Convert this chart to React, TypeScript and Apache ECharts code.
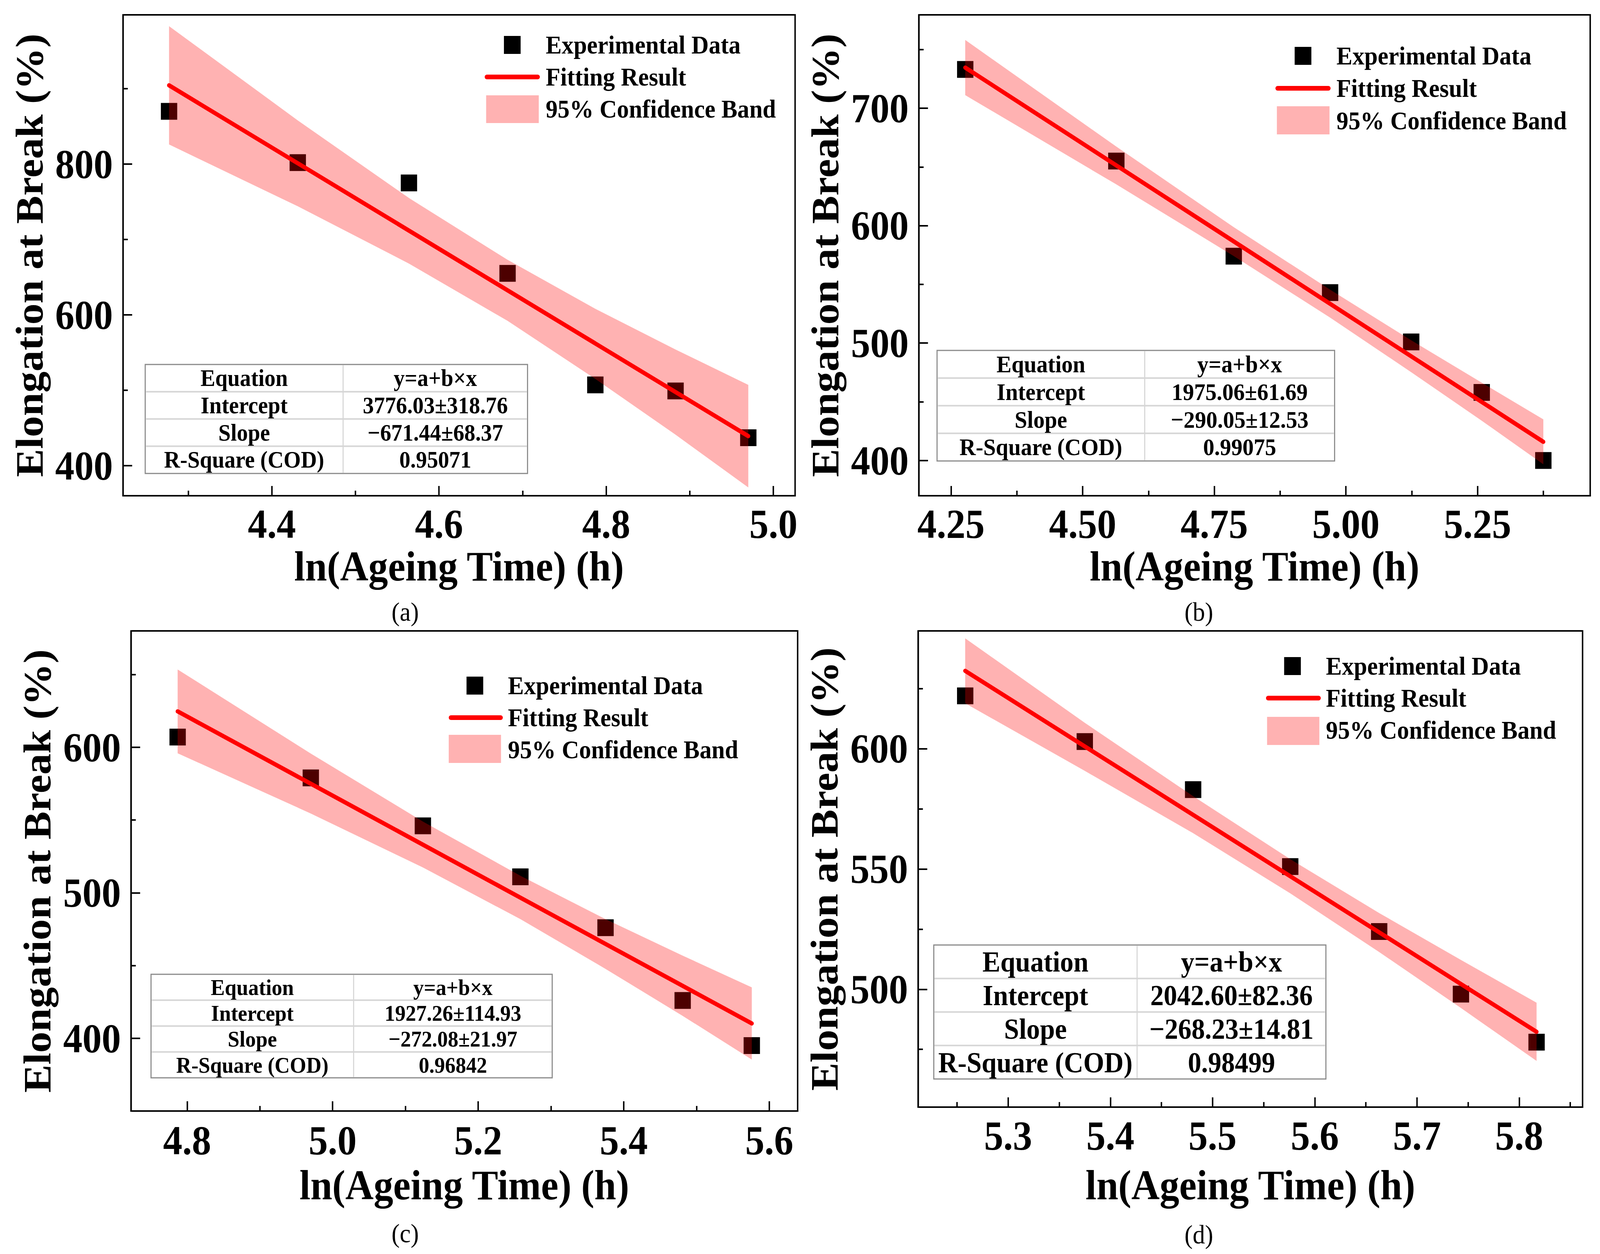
import React, { useEffect, useRef, useState } from "react";
import * as echarts from "echarts";

const FONT = '"Liberation Serif", "Times New Roman", Times, serif';
const DESIGN_W = 4407;
const DESIGN_H = 3210;

// ---------- Panel (a) ----------
const xA = [4.277, 4.431, 4.564, 4.682, 4.787, 4.883, 4.970];
const yA = [870, 802, 775, 655, 507, 499, 437];
const fitXA = [4.277, 4.970];
const fitYA = [904.5, 439.1];
const bandUpA = [983, 858, 755, 673, 608, 554, 507];
const bandLoA = [826, 744, 668, 592, 515, 441, 371];
const xTicksA = [4.4, 4.6, 4.8, 5.0];
const xMinorA = [4.3, 4.5, 4.7, 4.9];
const yTicksA = [400, 600, 800];
const yMinorA = [500, 700, 900];
const tableA = ["y=a+b\u00d7x", "3776.03\u00b1318.76", "\u2212671.44\u00b168.37", "0.95071"];

// ---------- Panel (b) ----------
const xB = [4.277, 4.564, 4.787, 4.970, 5.124, 5.258, 5.375];
const yB = [733, 655, 574, 543, 501, 458, 400];
const fitXB = [4.277, 5.375];
const fitYB = [734.6, 415.9];
const bandUpB = [758.1, 667.3, 598.7, 545.5, 502.4, 466.3, 435.0];
const bandLoB = [711.1, 635.1, 574.1, 521.7, 475.2, 433.9, 396.8];
const xTicksB = [4.25, 4.5, 4.75, 5.0, 5.25];
const xMinorB = [4.375, 4.625, 4.875, 5.125, 5.375];
const yTicksB = [400, 500, 600, 700];
const yMinorB = [450, 550, 650, 750];
const tableB = ["y=a+b\u00d7x", "1975.06\u00b161.69", "\u2212290.05\u00b112.53", "0.99075"];

// ---------- Panel (c) ----------
const xC = [4.787, 4.970, 5.124, 5.258, 5.375, 5.481, 5.576];
const yC = [607, 579, 546, 511, 476, 426, 395];
const fitXC = [4.787, 5.576];
const fitYC = [624.7, 410.2];
const bandUpC = [653.5, 595.7, 549.0, 511.7, 481.9, 456.8, 435.0];
const bandLoC = [595.9, 554.5, 517.4, 481.9, 447.7, 415.4, 385.4];
const xTicksC = [4.8, 5.0, 5.2, 5.4, 5.6];
const xMinorC = [4.9, 5.1, 5.3, 5.5];
const yTicksC = [400, 500, 600];
const yMinorC = [450, 550, 650];
const tableC = ["y=a+b\u00d7x", "1927.26\u00b1114.93", "\u2212272.08\u00b121.97", "0.96842"];

// ---------- Panel (d) ----------
const xD = [5.258, 5.375, 5.481, 5.576, 5.663, 5.743, 5.817];
const yD = [622, 603, 583, 551, 524, 498, 478];
const fitXD = [5.258, 5.817];
const fitYD = [632.4, 482.3];
const bandUpD = [645.9, 610.8, 580.3, 554.1, 531.7, 512.2, 494.4];
const bandLoD = [618.9, 590.8, 564.9, 539.9, 515.5, 492.2, 470.2];
const xTicksD = [5.3, 5.4, 5.5, 5.6, 5.7, 5.8];
const xMinorD = [5.25, 5.35, 5.45, 5.55, 5.65, 5.75, 5.85];
const yTicksD = [500, 550, 600];
const yMinorD = [475, 525, 575, 625];
const tableD = ["y=a+b\u00d7x", "2042.60\u00b182.36", "\u2212268.23\u00b114.81", "0.98499"];

const tableLabels = ["Equation", "Intercept", "Slope", "R-Square (COD)"];
const legendNames = ["Experimental Data", "Fitting Result", "95% Confidence Band"];
const xTitle = "ln(Ageing Time) (h)";
const yTitle = "Elongation at Break (%)";
const tags = ["(a)", "(b)", "(c)", "(d)"];

type PanelData = {
  xs: number[]; ys: number[]; fitX: number[]; fitY: number[];
  bandUp: number[]; bandLo: number[];
  xTicks: number[]; xMinor: number[]; yTicks: number[]; yMinor: number[];
  table: string[];
};

const data: PanelData[] = [
  { xs: xA, ys: yA, fitX: fitXA, fitY: fitYA, bandUp: bandUpA, bandLo: bandLoA, xTicks: xTicksA, xMinor: xMinorA, yTicks: yTicksA, yMinor: yMinorA, table: tableA },
  { xs: xB, ys: yB, fitX: fitXB, fitY: fitYB, bandUp: bandUpB, bandLo: bandLoB, xTicks: xTicksB, xMinor: xMinorB, yTicks: yTicksB, yMinor: yMinorB, table: tableB },
  { xs: xC, ys: yC, fitX: fitXC, fitY: fitYC, bandUp: bandUpC, bandLo: bandLoC, xTicks: xTicksC, xMinor: xMinorC, yTicks: yTicksC, yMinor: yMinorC, table: tableC },
  { xs: xD, ys: yD, fitX: fitXD, fitY: fitYD, bandUp: bandUpD, bandLo: bandLoD, xTicks: xTicksD, xMinor: xMinorD, yTicks: yTicksD, yMinor: yMinorD, table: tableD },
];

// ---------- layout (positions / styles, in reference pixels) ----------
const layout = [
  {
    grid: { left: 339, top: 38, width: 1851, height: 1231 },
    xr: [4.222, 5.026], yr: [360, 998], dec: 1, xGap: 127, xMargin: 19,
    leg: { mx: 1411, rows: [115, 197, 279], lx1: 1335, lx2: 1487, bx: 1339, bw: 145, by: 244, bh: 71, tx: 1503 },
    tbl: { x0: 400, x1: 1453, y0: 933, y1: 1212, xc: 945, fs: 61 },
    tag: { x: 1116, y: 1566 },
  },
  {
    grid: { left: 2531, top: 38, width: 1849, height: 1231 },
    xr: [4.189, 5.464], yr: [370, 779.5], dec: 2, xGap: 127, xMargin: 19,
    leg: { mx: 3589, rows: [143, 226, 309], lx1: 3513, lx2: 3665, bx: 3517, bw: 145, by: 272, bh: 72, tx: 3681 },
    tbl: { x0: 2581, x1: 3676, y0: 897, y1: 1180, xc: 3153, fs: 62 },
    tag: { x: 3302, y: 1566 },
  },
  {
    grid: { left: 361, top: 1615, width: 1836, height: 1229 },
    xr: [4.723, 5.639], yr: [350, 680], dec: 1, xGap: 136, xMargin: 22,
    leg: { mx: 1308, rows: [1755, 1837, 1919], lx1: 1236, lx2: 1385, bx: 1236, bw: 144, by: 1881, bh: 72, tx: 1399 },
    tbl: { x0: 416, x1: 1521, y0: 2494, y1: 2759, xc: 974, fs: 58 },
    tag: { x: 1116, y: 3157 },
  },
  {
    grid: { left: 2529, top: 1615, width: 1830, height: 1219 },
    xr: [5.212, 5.862], yr: [451, 649], dec: 1, xGap: 146, xMargin: 20,
    leg: { mx: 3560, rows: [1705, 1787, 1869], lx1: 3487, lx2: 3638, bx: 3490, bw: 144, by: 1835, bh: 72, tx: 3652 },
    tbl: { x0: 2572, x1: 3652, y0: 2419, y1: 2762, xc: 3132, fs: 74 },
    tag: { x: 3302, y: 3160 },
  },
];

const BAND_FILL = "rgba(255,0,0,0.3)";
const LINE_RED = "#ff0000";

function buildOption() {
  const grids: any[] = [];
  const xAxes: any[] = [];
  const yAxes: any[] = [];
  const series: any[] = [];
  const graphics: any[] = [];

  data.forEach((d, i) => {
    const L = layout[i];
    grids.push({
      ...L.grid,
      show: true,
      borderColor: "#000",
      borderWidth: 4,
      backgroundColor: "transparent",
      containLabel: false,
      outerBoundsMode: "none",
    });
    const tickStyle = { color: "#000", width: 4 };
    xAxes.push({
      type: "value",
      gridIndex: i,
      min: L.xr[0],
      max: L.xr[1],
      position: "bottom",
      axisLine: { show: true, onZero: false, lineStyle: { color: "#000", width: 4 } },
      axisTick: { show: true, inside: true, length: 25, lineStyle: tickStyle, customValues: d.xTicks },
      axisLabel: {
        show: true,
        customValues: d.xTicks,
        formatter: (v: number) => Number(v).toFixed(L.dec),
        fontSize: 106,
        fontWeight: "bold",
        fontFamily: FONT,
        color: "#000",
        margin: L.xMargin,
        hideOverlap: false,
      },
      splitLine: { show: false },
      name: xTitle,
      nameLocation: "middle",
      nameGap: L.xGap,
      nameMoveOverlap: false,
      nameTextStyle: { fontSize: 108, fontWeight: "bold", fontFamily: FONT, color: "#000" },
    });
    xAxes.push({
      type: "value",
      gridIndex: i,
      min: L.xr[0],
      max: L.xr[1],
      position: "bottom",
      axisLine: { show: false, onZero: false },
      axisTick: { show: true, inside: true, length: 13, lineStyle: tickStyle, customValues: d.xMinor },
      axisLabel: { show: false },
      splitLine: { show: false },
    });
    yAxes.push({
      type: "value",
      gridIndex: i,
      min: L.yr[0],
      max: L.yr[1],
      position: "left",
      axisLine: { show: true, onZero: false, lineStyle: { color: "#000", width: 4 } },
      axisTick: { show: true, inside: true, length: 25, lineStyle: tickStyle, customValues: d.yTicks },
      axisLabel: {
        show: true,
        customValues: d.yTicks,
        formatter: (v: number) => String(Math.round(v)),
        fontSize: 106,
        fontWeight: "bold",
        fontFamily: FONT,
        color: "#000",
        margin: 28,
        hideOverlap: false,
      },
      splitLine: { show: false },
      name: yTitle,
      nameLocation: "middle",
      nameGap: 204,
      nameRotate: 90,
      nameMoveOverlap: false,
      nameTextStyle: { fontSize: 108, fontWeight: "bold", fontFamily: FONT, color: "#000" },
    });
    yAxes.push({
      type: "value",
      gridIndex: i,
      min: L.yr[0],
      max: L.yr[1],
      position: "left",
      axisLine: { show: false, onZero: false },
      axisTick: { show: true, inside: true, length: 13, lineStyle: tickStyle, customValues: d.yMinor },
      axisLabel: { show: false },
      splitLine: { show: false },
    });

    const xi = 2 * i;
    series.push({
      type: "scatter",
      name: legendNames[0],
      xAxisIndex: xi,
      yAxisIndex: xi,
      data: d.xs.map((x, k) => [x, d.ys[k]]),
      symbol: "rect",
      symbolSize: [45, 43],
      itemStyle: { color: "#000", opacity: 1 },
      z: 2,
    });
    series.push({
      type: "custom",
      name: legendNames[2],
      xAxisIndex: xi,
      yAxisIndex: xi,
      coordinateSystem: "cartesian2d",
      encode: { x: 0, y: 1 },
      data: [[d.xs[0], d.bandUp[0]]],
      renderItem: (_p: any, api: any) => {
        const pts: number[][] = [];
        for (let k = 0; k < d.xs.length; k++) pts.push(api.coord([d.xs[k], d.bandUp[k]]));
        for (let k = d.xs.length - 1; k >= 0; k--) pts.push(api.coord([d.xs[k], d.bandLo[k]]));
        return { type: "polygon", shape: { points: pts }, style: { fill: BAND_FILL, stroke: "none" } };
      },
      z: 3,
    });
    series.push({
      type: "line",
      name: legendNames[1],
      xAxisIndex: xi,
      yAxisIndex: xi,
      data: d.fitX.map((x, k) => [x, d.fitY[k]]),
      symbol: "none",
      lineStyle: { color: LINE_RED, width: 11, cap: "round" },
      z: 4,
    });

    // legend
    const g = L.leg;
    const legFont = { fontSize: 66, fontWeight: "bold", fontFamily: FONT, fill: "#000" };
    graphics.push({
      type: "rect",
      z: 20,
      shape: { x: g.mx - 23, y: g.rows[0] - 23, width: 46, height: 46 },
      style: { fill: "#000" },
    });
    graphics.push({
      type: "line",
      z: 20,
      shape: { x1: g.lx1 + 6, y1: g.rows[1], x2: g.lx2 - 6, y2: g.rows[1] },
      style: { stroke: LINE_RED, lineWidth: 12, lineCap: "round" },
    });
    graphics.push({
      type: "rect",
      z: 20,
      shape: { x: g.bx, y: g.by, width: g.bw, height: g.bh },
      style: { fill: BAND_FILL },
    });
    legendNames.forEach((nm, k) => {
      graphics.push({
        type: "text",
        z: 20,
        x: g.tx,
        y: g.rows[k],
        style: { ...legFont, text: nm, align: "left", verticalAlign: "middle" },
      });
    });

    // fit table
    const t = L.tbl;
    const rh = (t.y1 - t.y0) / 4;
    graphics.push({
      type: "rect",
      z: 20,
      shape: { x: t.x0, y: t.y0, width: t.x1 - t.x0, height: t.y1 - t.y0 },
      style: { fill: "#fff", stroke: "#8a8a8a", lineWidth: 3 },
    });
    for (let r = 1; r < 4; r++) {
      graphics.push({
        type: "line",
        z: 21,
        shape: { x1: t.x0 + 2, y1: t.y0 + r * rh, x2: t.x1 - 2, y2: t.y0 + r * rh },
        style: { stroke: "#d6d6d6", lineWidth: 4 },
      });
    }
    graphics.push({
      type: "line",
      z: 21,
      shape: { x1: t.xc, y1: t.y0 + 2, x2: t.xc, y2: t.y1 - 2 },
      style: { stroke: "#d6d6d6", lineWidth: 3 },
    });
    const tblFont = { fontSize: t.fs, fontWeight: "bold", fontFamily: FONT, fill: "#000" };
    for (let r = 0; r < 4; r++) {
      const cy = t.y0 + (r + 0.5) * rh;
      graphics.push({
        type: "text",
        z: 22,
        x: (t.x0 + t.xc) / 2,
        y: cy,
        style: { ...tblFont, text: tableLabels[r], align: "center", verticalAlign: "middle" },
      });
      graphics.push({
        type: "text",
        z: 22,
        x: (t.xc + t.x1) / 2,
        y: cy,
        style: { ...tblFont, text: d.table[r], align: "center", verticalAlign: "middle" },
      });
    }

    graphics.push({
      type: "text",
      z: 20,
      x: L.tag.x,
      y: L.tag.y,
      style: { text: tags[i], fontSize: 68, fontWeight: "normal", fontFamily: FONT, fill: "#000", align: "center", verticalAlign: "middle" },
    });
  });

  return {
    animation: false,
    backgroundColor: "#ffffff",
    grid: grids,
    xAxis: xAxes,
    yAxis: yAxes,
    series,
    graphic: { elements: graphics },
  };
}

function Chart() {
  const ref = useRef<HTMLDivElement | null>(null);
  useEffect(() => {
    if (!ref.current) return;
    const chart = echarts.init(ref.current, undefined, { renderer: "svg" });
    chart.setOption(buildOption() as any);
    return () => {
      chart.dispose();
    };
  }, []);
  return <div ref={ref} style={{ width: DESIGN_W, height: DESIGN_H }} />;
}

function viewport() {
  const de = document.documentElement;
  const w = Math.min(window.innerWidth || DESIGN_W, de && de.clientWidth ? de.clientWidth : DESIGN_W);
  const h = Math.min(window.innerHeight || DESIGN_H, de && de.clientHeight ? de.clientHeight : DESIGN_H);
  return { w: w > 0 ? w : DESIGN_W, h: h > 0 ? h : DESIGN_H };
}

export default function App() {
  const [vp] = useState(viewport);
  useEffect(() => {
    document.body.style.margin = "0";
    document.body.style.overflow = "hidden";
  }, []);
  const sx = Math.min(1, vp.w / DESIGN_W);
  const sy = Math.min(1, vp.h / DESIGN_H);
  return (
    <div
      style={{
        position: "absolute",
        left: 0,
        top: 0,
        width: DESIGN_W,
        height: DESIGN_H,
        background: "#fff",
        transformOrigin: "0 0",
        transform: `scale(${sx}, ${sy})`,
      }}
    >
      <Chart />
    </div>
  );
}
